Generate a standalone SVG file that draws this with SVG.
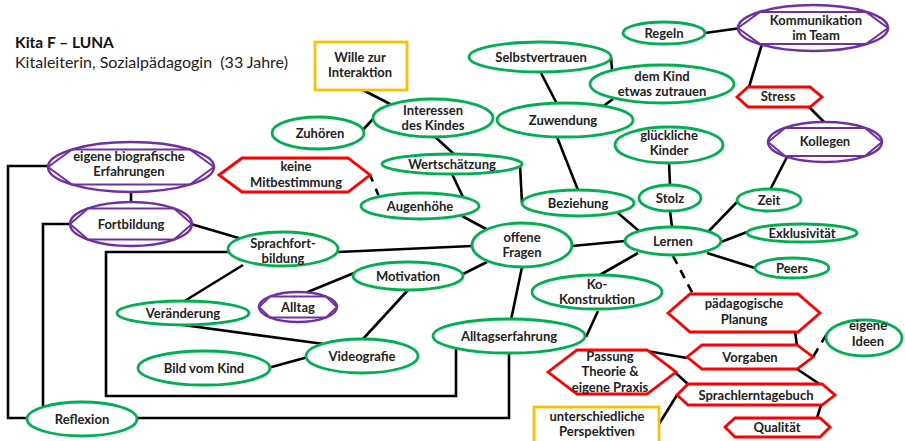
<svg xmlns="http://www.w3.org/2000/svg" width="905" height="441" viewBox="0 0 905 441">
  <style>
    text { font-family: Lato, "Liberation Sans", sans-serif; font-size: 13px; font-weight: bold; fill: #222; text-anchor: middle; }
    .title { text-anchor: start; font-size: 15.5px; fill: #111; }
    .sub { text-anchor: start; font-size: 16px; font-weight: normal; fill: #222; white-space: pre; }
    .g { fill: #fff; stroke: #00b050; stroke-width: 2.8; }
    .p { fill: #fff; stroke: #7030a0; stroke-width: 2.4; }
    .pi { fill: none; stroke: #7030a0; stroke-width: 2; }
    .r { fill: #fff; stroke: #ff0000; stroke-width: 2.8; stroke-linejoin: miter; }
    .y { fill: #fff; stroke: #ffc000; stroke-width: 2.8; }
    #connectors line, #connectors polyline { stroke: #000; stroke-width: 2.6; fill: none; stroke-linejoin: miter; }
    #connectors .dash { stroke-dasharray: 9 7; }
  </style>

  <text class="title" x="15" y="48">Kita F – LUNA</text>
  <text class="sub" x="15" y="68">Kitaleiterin, Sozialpädagogin  (33 Jahre)</text>

  <g id="connectors">
    <line x1="361" y1="89" x2="392" y2="105"/>
    <line x1="360" y1="133" x2="374" y2="118"/>
    <line x1="433" y1="135" x2="455" y2="155"/>
    <line x1="452" y1="174" x2="463" y2="197"/>
    <line x1="462" y1="216" x2="488" y2="230"/>
    <line x1="520" y1="165" x2="522" y2="203"/>
    <line x1="557" y1="137" x2="578" y2="190"/>
    <line x1="541" y1="73" x2="557" y2="104"/>
    <line x1="598" y1="110" x2="613" y2="99"/>
    <line x1="611" y1="57" x2="612" y2="70"/>
    <line x1="705" y1="33" x2="741" y2="28"/>
    <line x1="762" y1="44" x2="749" y2="87"/>
    <line x1="808" y1="106" x2="824" y2="122"/>
    <line x1="787" y1="157" x2="770" y2="190"/>
    <line x1="669" y1="162" x2="670" y2="185"/>
    <line x1="670" y1="211" x2="672" y2="227"/>
    <line x1="737" y1="202" x2="707" y2="233"/>
    <line x1="747" y1="232" x2="721" y2="242"/>
    <line x1="755" y1="268" x2="707" y2="253"/>
    <line x1="618" y1="213" x2="639" y2="231"/>
    <line x1="638" y1="253" x2="598" y2="276"/>
    <line class="dash" x1="673" y1="256" x2="693" y2="294"/>
    <line x1="572" y1="246" x2="625" y2="241"/>
    <line x1="338" y1="252" x2="472" y2="246"/>
    <line x1="463" y1="274" x2="487" y2="262"/>
    <line x1="522" y1="267" x2="511" y2="320"/>
    <line x1="598" y1="311" x2="586" y2="337"/>
    <line x1="191" y1="224" x2="242" y2="239"/>
    <line x1="131" y1="191" x2="131" y2="203"/>
    <polyline points="229,252 106,252 106,396 456,396 456,349"/>
    <polyline points="71,224 43,224 43,406"/>
    <polyline points="49,166 8,166 8,418 28,418"/>
    <polyline points="137,418 509,418 509,352"/>
    <line x1="243" y1="265" x2="183" y2="302"/>
    <line x1="183" y1="325" x2="324" y2="344"/>
    <line x1="268" y1="368" x2="308" y2="357"/>
    <line x1="408" y1="290" x2="363" y2="339"/>
    <line x1="354" y1="273" x2="298" y2="296"/>
    <line class="dash" x1="370" y1="175" x2="380" y2="199" style="stroke-dasharray:7 8"/>
    <line x1="795" y1="331" x2="797" y2="346"/>
    <line class="dash" x1="813" y1="357" x2="828" y2="332" style="stroke-dasharray:10 7"/>
    <line x1="797" y1="369" x2="821" y2="385"/>
    <line x1="647" y1="351" x2="687" y2="358"/>
    <line x1="668" y1="366" x2="689" y2="385"/>
    <line x1="659" y1="424" x2="677" y2="395"/>
    <line x1="821" y1="405" x2="817" y2="418"/>
  </g>

  <!-- green concept ellipses -->
  <g id="zuhoeren"><ellipse class="g" cx="318" cy="133" rx="46" ry="16"/><text x="320" y="138">Zuhören</text></g>
  <g id="interessen"><ellipse class="g" cx="433" cy="118" rx="60" ry="19"/><text x="433" y="115">Interessen</text><text x="433" y="130">des Kindes</text></g>
  <g id="selbstvertrauen"><ellipse class="g" cx="540" cy="57" rx="71" ry="15"/><text x="541" y="62">Selbstvertrauen</text></g>
  <g id="zuwendung"><ellipse class="g" cx="565" cy="120" rx="68" ry="17"/><text x="563" y="125">Zuwendung</text></g>
  <g id="regeln"><ellipse class="g" cx="664" cy="33" rx="41" ry="11"/><text x="664" y="38">Regeln</text></g>
  <g id="zutrauen"><ellipse class="g" cx="662" cy="84" rx="72" ry="19"/><text x="662" y="81">dem Kind</text><text x="662" y="96">etwas zutrauen</text></g>
  <g id="gluecklich"><ellipse class="g" cx="669" cy="145" rx="54" ry="18"/><text x="669" y="140">glückliche</text><text x="669" y="155">Kinder</text></g>
  <g id="stolz"><ellipse class="g" cx="670" cy="198" rx="31" ry="13"/><text x="670" y="203">Stolz</text></g>
  <g id="zeit"><ellipse class="g" cx="769" cy="200" rx="32" ry="11"/><text x="769" y="205">Zeit</text></g>
  <g id="exklusivitaet"><ellipse class="g" cx="802" cy="233" rx="55" ry="9"/><text x="802" y="238">Exklusivität</text></g>
  <g id="peers"><ellipse class="g" cx="792" cy="268" rx="37" ry="10"/><text x="792" y="273">Peers</text></g>
  <g id="lernen"><ellipse class="g" cx="673" cy="241" rx="48" ry="14"/><text x="673" y="246">Lernen</text></g>
  <g id="beziehung"><ellipse class="g" cx="578" cy="203" rx="56" ry="13"/><text x="578" y="208">Beziehung</text></g>
  <g id="wertschaetzung"><ellipse class="g" cx="452" cy="164" rx="70" ry="10"/><text x="452" y="169">Wertschätzung</text></g>
  <g id="augenhoehe"><ellipse class="g" cx="420" cy="206" rx="59" ry="13"/><text x="420" y="211">Augenhöhe</text></g>
  <g id="offene-fragen"><ellipse class="g" cx="522" cy="245" rx="50" ry="22"/><text x="522" y="242">offene</text><text x="522" y="257">Fragen</text></g>
  <g id="sprachfortbildung"><ellipse class="g" cx="283" cy="249" rx="55" ry="17"/><text x="283" y="248">Sprachfort-</text><text x="283" y="263">bildung</text></g>
  <g id="motivation"><ellipse class="g" cx="408" cy="276" rx="55" ry="14"/><text x="408" y="281">Motivation</text></g>
  <g id="veraenderung"><ellipse class="g" cx="183" cy="313" rx="66" ry="12"/><text x="183" y="318">Veränderung</text></g>
  <g id="bild-vom-kind"><ellipse class="g" cx="204" cy="368" rx="66" ry="17"/><text x="204" y="373">Bild vom Kind</text></g>
  <g id="videografie"><ellipse class="g" cx="362" cy="356" rx="56" ry="17"/><text x="362" y="361">Videografie</text></g>
  <g id="alltagserfahrung"><ellipse class="g" cx="509" cy="336" rx="76" ry="17"/><text x="509" y="341">Alltagserfahrung</text></g>
  <g id="ko-konstruktion"><ellipse class="g" cx="597" cy="292" rx="65" ry="17"/><text x="597" y="289">Ko-</text><text x="597" y="304">Konstruktion</text></g>
  <g id="reflexion"><ellipse class="g" cx="82" cy="419" rx="55" ry="17"/><text x="82" y="424">Reflexion</text></g>
  <g id="eigene-ideen"><ellipse class="g" cx="864" cy="338" rx="38" ry="18"/><text x="868" y="330">eigene</text><text x="868" y="346">Ideen</text></g>

  <!-- purple ellipse + inscribed hexagon -->
  <g id="kommunikation"><ellipse class="p" cx="813" cy="28" rx="75" ry="23"/><polygon class="pi" points="738,28 760,12 866,12 888,28 866,44 760,44"/><text x="816" y="25">Kommunikation</text><text x="816" y="40">im Team</text></g>
  <g id="kollegen"><ellipse class="p" cx="825" cy="142" rx="57" ry="20"/><polygon class="pi" points="768,142 785,128 865,128 882,142 865,156 785,156"/><text x="825" y="146">Kollegen</text></g>
  <g id="biografie"><ellipse class="p" cx="131" cy="167" rx="83" ry="25"/><polygon class="pi" points="48,167 72,149.5 190,149.5 214,167 190,184.5 72,184.5"/><text x="129" y="161">eigene biografische</text><text x="129" y="176">Erfahrungen</text></g>
  <g id="fortbildung"><ellipse class="p" cx="131" cy="224" rx="61" ry="22"/><polygon class="pi" points="70,224 88,208.5 174,208.5 192,224 174,239.5 88,239.5"/><text x="131" y="229">Fortbildung</text></g>
  <g id="alltag"><ellipse class="p" cx="298" cy="307" rx="39" ry="15"/><polygon class="pi" points="259,307 270,296.5 326,296.5 337,307 326,317.5 270,317.5"/><text x="298" y="312">Alltag</text></g>

  <!-- red hexagons -->
  <g id="mitbestimmung"><polygon class="r" points="219,175 242,158 348,158 370,175 348,192 242,192"/><text x="296" y="171">keine</text><text x="296" y="187">Mitbestimmung</text></g>
  <g id="stress"><polygon class="r" points="737,97 748,87 810,87 822,97 810,107 748,107"/><text x="778" y="101">Stress</text></g>
  <g id="planung"><polygon class="r" points="668,313 690,294 798,294 820,313 798,332 690,332"/><text x="744" y="308">pädagogische</text><text x="744" y="324">Planung</text></g>
  <g id="vorgaben"><polygon class="r" points="687,357 702,345 797,345 813,357 797,369 702,369"/><text x="750" y="362">Vorgaben</text></g>
  <g id="sprachlerntagebuch"><polygon class="r" points="677,395 688,384 822,384 835,395 822,405 688,405"/><text x="756" y="400">Sprachlerntagebuch</text></g>
  <g id="qualitaet"><polygon class="r" points="725,427 735,418 820,418 830,427 820,437 735,437"/><text x="777" y="432">Qualität</text></g>
  <g id="passung"><polygon class="r" points="548,372 577,350 647,350 676,372 647,394 577,394"/><text x="610" y="361">Passung</text><text x="610" y="376">Theorie &amp;</text><text x="610" y="392">eigene Praxis</text></g>

  <!-- yellow boxes -->
  <g id="wille"><rect class="y" x="315" y="42" width="92" height="48"/><text x="360" y="62">Wille zur</text><text x="360" y="77">Interaktion</text></g>
  <g id="perspektiven"><rect class="y" x="534" y="407" width="125" height="40"/><text x="597" y="421">unterschiedliche</text><text x="597" y="436">Perspektiven</text></g>
</svg>
